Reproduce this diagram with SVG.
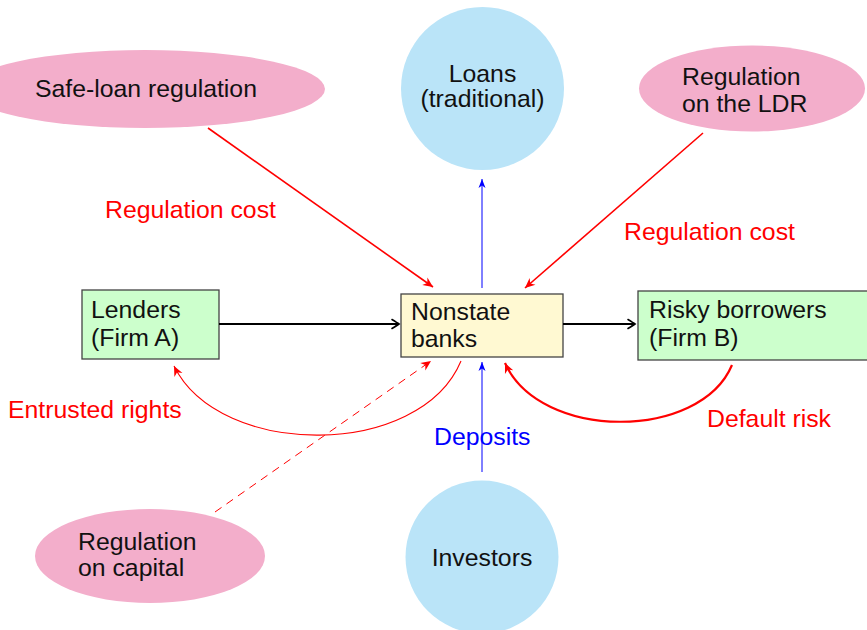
<svg xmlns="http://www.w3.org/2000/svg" width="867" height="630" viewBox="0 0 867 630">
  <style>
    text { font-family: "Liberation Sans", Arial, sans-serif; font-size: 24.8px; fill: #111; }
    .reg { fill: #F3AECB; }
    .pool { fill: #BAE4F8; }
    .firm { fill: #CCFFCC; stroke: #444; stroke-width: 1.3; }
    .bank { fill: #FFF9D2; stroke: #444; stroke-width: 1.3; }
    .red { fill: #FF0000; }
    .blue { fill: #0000FF; }
    .ln { fill: none; }
  </style>
  <defs>
    <marker id="openBlack" viewBox="-10 -6 12 12" markerWidth="12" markerHeight="12" refX="0" refY="0" orient="auto" markerUnits="userSpaceOnUse">
      <path d="M -7 -4.5 Q -1.5 -1 0 0 Q -1.5 1 -7 4.5" fill="none" stroke="#000" stroke-width="1.6" stroke-linecap="round"/>
    </marker>
    <marker id="stealthRed" viewBox="-12 -6 14 12" markerWidth="14" markerHeight="12" refX="0" refY="0" orient="auto" markerUnits="userSpaceOnUse">
      <path d="M 0 0 L -10 -4.5 L -7 0 L -10 4.5 Z" fill="#FF0000"/>
    </marker>
    <marker id="stealthBlue" viewBox="-12 -6 14 12" markerWidth="14" markerHeight="12" refX="0" refY="0" orient="auto" markerUnits="userSpaceOnUse">
      <path d="M 0 0 L -9 -3.5 L -6.5 0 L -9 3.5 Z" fill="#0000FF"/>
    </marker>
  </defs>

  <!-- regulation ellipses -->
  <g id="safe-loan">
    <ellipse class="reg" cx="145" cy="89" rx="180" ry="39"/>
    <text x="35" y="97">Safe-loan regulation</text>
  </g>
  <g id="ldr">
    <ellipse class="reg" cx="752" cy="88.5" rx="113" ry="43"/>
    <text x="682" y="85">Regulation</text>
    <text x="682" y="112">on the LDR</text>
  </g>
  <g id="capital">
    <ellipse class="reg" cx="150" cy="556" rx="115" ry="47"/>
    <text x="78" y="550">Regulation</text>
    <text x="78" y="576">on capital</text>
  </g>

  <!-- pools -->
  <g id="loans">
    <circle class="pool" cx="482.5" cy="88.5" r="81.5"/>
    <text x="482.5" y="82" text-anchor="middle">Loans</text>
    <text x="482.5" y="107" text-anchor="middle">(traditional)</text>
  </g>
  <g id="investors">
    <circle class="pool" cx="482" cy="557" r="76.5"/>
    <text x="482" y="566" text-anchor="middle">Investors</text>
  </g>

  <!-- firms and banks -->
  <g id="lenders">
    <rect class="firm" x="82" y="290" width="137" height="69"/>
    <text x="91" y="318">Lenders</text>
    <text x="91" y="346">(Firm A)</text>
  </g>
  <g id="nonstate">
    <rect class="bank" x="401" y="294" width="162" height="63"/>
    <text x="411" y="320">Nonstate</text>
    <text x="411" y="347">banks</text>
  </g>
  <g id="risky">
    <rect class="firm" x="638" y="291" width="240" height="69"/>
    <text x="649" y="318">Risky borrowers</text>
    <text x="649" y="346">(Firm B)</text>
  </g>

  <!-- connectors -->
  <g id="connectors">
    <line x1="219" y1="324" x2="399" y2="324" stroke="#000" stroke-width="1.8" marker-end="url(#openBlack)"/>
    <line x1="563" y1="324" x2="635" y2="324" stroke="#000" stroke-width="1.8" marker-end="url(#openBlack)"/>
    <line x1="482" y1="288" x2="482" y2="179" stroke="#0000FF" stroke-width="1" marker-end="url(#stealthBlue)"/>
    <line x1="482" y1="472" x2="482" y2="362" stroke="#0000FF" stroke-width="1" marker-end="url(#stealthBlue)"/>
    <line x1="208" y1="128" x2="433" y2="287" stroke="#FF0000" stroke-width="1.6" marker-end="url(#stealthRed)"/>
    <line x1="703" y1="133" x2="525" y2="288" stroke="#FF0000" stroke-width="1.6" marker-end="url(#stealthRed)"/>
    <line x1="215" y1="512" x2="431" y2="361" stroke="#FF0000" stroke-width="1" stroke-dasharray="8 6" marker-end="url(#stealthRed)"/>
    <path class="ln" d="M 461 361 C 420 459, 220 459, 174 366" stroke="#FF0000" stroke-width="1.1" marker-end="url(#stealthRed)"/>
    <path class="ln" d="M 732 365 C 700 441, 540 441, 505 363" stroke="#FF0000" stroke-width="2.2" marker-end="url(#stealthRed)"/>
  </g>

  <!-- connector labels -->
  <g id="labels">
    <text class="red" x="105" y="218">Regulation cost</text>
    <text class="red" x="624" y="240">Regulation cost</text>
    <text class="red" x="8" y="418">Entrusted rights</text>
    <text class="blue" x="434" y="445">Deposits</text>
    <text class="red" x="707" y="427">Default risk</text>
  </g>
</svg>
